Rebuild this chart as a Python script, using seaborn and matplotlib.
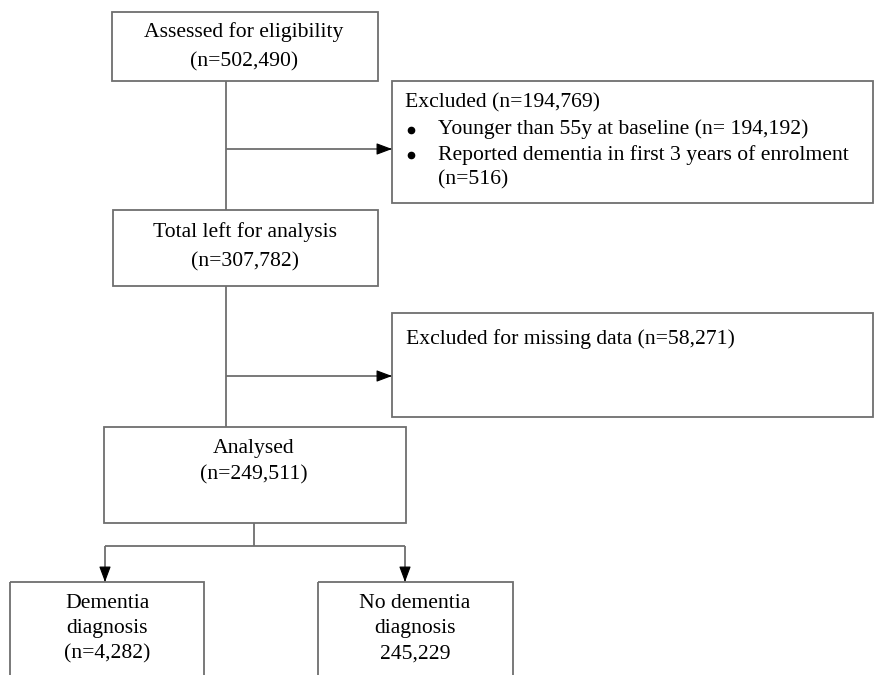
import matplotlib
matplotlib.use("Agg")
import matplotlib.pyplot as plt
from matplotlib.patches import Rectangle
import seaborn as sns

sns.set_theme(style="white")
plt.rcParams['font.family'] = ['Liberation Serif', 'DejaVu Serif']
plt.rcParams['text.color'] = 'black'

# Data (flow counts)
stage_titles = ["Assessed for eligibility", "Total left for analysis", "Analysed"]
stage_counts = ["502,490", "307,782", "249,511"]
excl1_total = "194,769"
excl1_items = ["Younger than 55y at baseline (n= 194,192)",
               "Reported dementia in first 3 years of enrolment", "(n=516)"]
excl2_count = "58,271"
outcome_titles = ["Dementia\ndiagnosis", "No dementia\ndiagnosis"]
outcome_counts = ["(n=4,282)", "245,229"]

W, H = 874, 675
fig = plt.figure(figsize=(W / 100, H / 100), dpi=100)
ax = fig.add_axes([0, 0, 1, 1])
ax.set_xlim(0, W)
ax.set_ylim(H, 0)
ax.axis("off")

LC = "#6e6e6e"
LW = 1.3
FS = 15.6

def txt(x, y, s, ha="center", fs=FS):
    ax.text(x, y, s, ha=ha, va="center", fontsize=fs, color="black")

def box(x0, y0, x1, y1):
    ax.add_patch(Rectangle((x0, y0), x1 - x0, y1 - y0, fill=False,
                           edgecolor=LC, linewidth=LW, clip_on=True))

def line(xs, ys):
    ax.plot(xs, ys, color=LC, linewidth=LW, solid_capstyle="butt")

def arrow(x0, y0, x1, y1):
    # grey shaft, black head
    line([x0, x1], [y0, y1])
    ax.annotate("", xy=(x1, y1), xytext=(x0, y0),
                arrowprops=dict(arrowstyle="-|>,head_length=0.8,head_width=0.3",
                                lw=0.8, shrinkA=0, shrinkB=0,
                                mutation_scale=12, fc="black", ec="black",
                                alpha=1.0, linestyle="none"))

def head(x0, y0, x1, y1):
    ax.annotate("", xy=(x1, y1), xytext=(x0, y0),
                arrowprops=dict(arrowstyle="-|>,head_length=0.8,head_width=0.3",
                                lw=0.8, shrinkA=0, shrinkB=0,
                                mutation_scale=12, fc="black", ec="black"))

def garrow(x0, y0, x1, y1):
    line([x0, x1], [y0, y1])
    # short black segment only at the tip so the head is black
    dx, dy = x1 - x0, y1 - y0
    L = (dx ** 2 + dy ** 2) ** 0.5
    ux, uy = dx / L, dy / L
    head(x1 - 11 * ux, y1 - 11 * uy, x1, y1)

# Main boxes
box(112, 12, 378, 81)
txt(244, 32, stage_titles[0])
txt(244, 62, f"(n={stage_counts[0]})")

box(113, 210, 378, 286)
txt(245, 232, stage_titles[1])
txt(245, 262, f"(n={stage_counts[1]})")

box(104, 427, 406, 523)
txt(254, 448, stage_titles[2])
txt(254, 475, f"(n={stage_counts[2]})")

# vertical trunk
line([226, 226], [81, 210])
line([226, 226], [286, 427])

# Exclusion box 1
box(392, 81, 873, 203)
garrow(226, 149, 392, 149)
txt(405, 103, f"Excluded (n={excl1_total})", ha="left")
ax.plot([411, 411], [130, 155], "o", color="black", markersize=4.5)
txt(438, 129, excl1_items[0], ha="left")
txt(438, 155, excl1_items[1], ha="left")
txt(438, 180, excl1_items[2], ha="left")

# Exclusion box 2
box(392, 313, 873, 417)
garrow(226, 376, 392, 376)
txt(406, 339, f"Excluded for missing data (n={excl2_count})", ha="left")

# Split to outcomes
line([254, 254], [523, 546])
line([105, 405], [546, 546])
garrow(105, 546, 105, 582)
garrow(405, 546, 405, 582)

box(10, 582, 204, 700)
box(318, 582, 513, 700)
for cx, title, cnt in [(107, outcome_titles[0], outcome_counts[0]),
                       (415, outcome_titles[1], outcome_counts[1])]:
    t1, t2 = title.split("\n")
    txt(cx, 604, t1)
    txt(cx, 629, t2)
    txt(cx, 654, cnt)

fig.savefig("out.png", dpi=100)
